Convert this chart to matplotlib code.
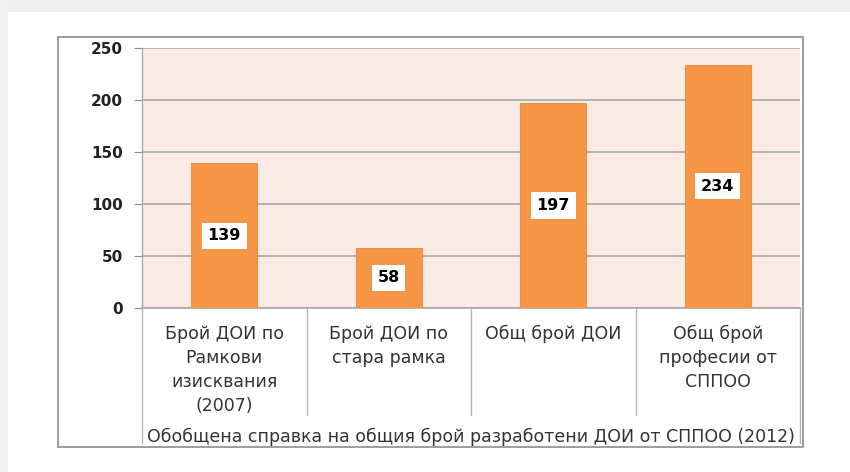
import matplotlib.pyplot as plt
from matplotlib.patches import Rectangle
from matplotlib.transforms import blended_transform_factory

categories = ["Брой ДОИ по\nРамкови\nизисквания\n(2007)",
              "Брой ДОИ по\nстара рамка",
              "Общ брой ДОИ",
              "Общ брой\nпрофесии от\nСППОО"]
values = [139, 58, 197, 234]
yticks = [0, 50, 100, 150, 200, 250]
group_label = "Обобщена справка на общия брой разработени ДОИ от СППОО (2012)"

plt.rcParams['font.family'] = ['DejaVu Sans']

W, H = 850, 472
fig = plt.figure(figsize=(W / 100, H / 100), dpi=100)

# screenshot frame: light grey strips at top and left
fig.patches.append(Rectangle((0, 1 - 12 / H), 1, 12 / H, transform=fig.transFigure,
                             facecolor="#efefef", edgecolor="none", zorder=0))
fig.patches.append(Rectangle((0, 0), 8 / W, 1, transform=fig.transFigure,
                             facecolor="#f1f1f1", edgecolor="none", zorder=0))
# chart border
fig.patches.append(Rectangle((58 / W, 1 - 447 / H), 745 / W, 410 / H, transform=fig.transFigure,
                             facecolor="none", edgecolor="#8c8c8c", linewidth=1.2, zorder=1))

left, right, top, bottom = 142, 800, 48, 308
ax = fig.add_axes([left / W, 1 - bottom / H, (right - left) / W, (bottom - top) / H])
ax.set_facecolor("#fbebe5")

x = list(range(len(values)))
bars = ax.bar(x, values, width=0.4, color="#f79646", edgecolor="#e8853a", linewidth=0.6, zorder=3)

for xi, v in zip(x, values):
    ax.text(xi, v / 2, str(v), ha="center", va="center", fontsize=11.5, fontweight="bold",
            color="black", zorder=4,
            bbox=dict(boxstyle="square,pad=0.35", facecolor="white", edgecolor="none"))

ax.set_xlim(-0.5, 3.5)
ax.set_ylim(0, 250)
ax.set_yticks(yticks)
ax.set_yticklabels([str(t) for t in yticks], fontsize=11, fontweight="bold", color="#222222")
ax.tick_params(axis="y", length=6, color="#8c8c8c", pad=7.5)
ax.set_xticks([])
ax.grid(axis="y", color="#a9a9a9", linewidth=1.2, zorder=1)
ax.set_axisbelow(True)

for s in ["top", "right"]:
    ax.spines[s].set_visible(False)
ax.spines["left"].set_color("#a9a9a9")
ax.spines["bottom"].set_color("#a9a9a9")
ax.spines["left"].set_linewidth(1.0)
ax.spines["bottom"].set_linewidth(1.2)

# multi-level category axis
trans = blended_transform_factory(ax.transData, ax.transAxes)
ph = bottom - top
for b in [0.5, 1.5, 2.5]:
    ax.plot([b, b], [0, -(415 - bottom) / ph], transform=trans, color="#b5b5b5",
            linewidth=1.0, clip_on=False)
for b in [-0.5, 3.5]:
    ax.plot([b, b], [0, -(443 - bottom) / ph], transform=trans, color="#b5b5b5",
            linewidth=1.0, clip_on=False)

for xi, c in zip(x, categories):
    ax.text(xi, -(325 - bottom) / ph, c, transform=trans, ha="center", va="top",
            fontsize=12.5, color="#333333", linespacing=1.42)

ax.text(1.5, -(437 - bottom) / ph, group_label, transform=trans, ha="center", va="center",
        fontsize=12.5, color="#333333")

fig.savefig("out.png", dpi=100)
